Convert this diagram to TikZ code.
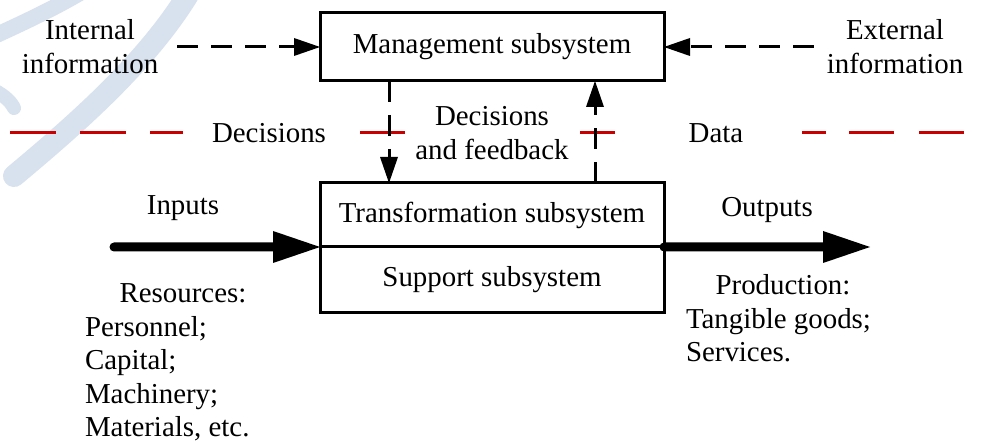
\documentclass[tikz,border=0pt]{standalone}
\usepackage{fontspec}
\setmainfont{Liberation Serif}
\usetikzlibrary{arrows.meta,calc}
\definecolor{divred}{RGB}{200,0,0}
\definecolor{wmblue}{RGB}{216,225,238}
\begin{document}
\begin{tikzpicture}[x=1bp,y=-1bp,
  every node/.style={font=\fontsize{29}{34}\selectfont, inner sep=0pt, outer sep=0pt},
  box/.style={draw, line width=3bp, minimum width=344bp},
  dasharrow/.style={line width=3bp, dash pattern=on 21bp off 13bp,
    -{Triangle[length=26bp,width=18bp,line width=0pt]}},
  bigarrow/.style={line width=9bp, line cap=round,
    -{Triangle[length=47bp,width=32bp,line width=0pt]}},
  divider/.style={line width=3bp, draw=divred},
  wm/.style={draw=wmblue, line cap=round}]

% page and bounding box
\fill[white] (0,0) rectangle (984,445);
\useasboundingbox (0,0) rectangle (984,445);

% faint background marks
\begin{scope}
  \clip (0,0) rectangle (984,445);
  \draw[wm, line width=22bp] (192,-12) .. controls (150,60) and (75,125) .. (14,176);
  \draw[wm, line width=16bp] (85,-10) .. controls (55,8) and (25,22) .. (-10,38);
  \draw[wm, line width=14bp] (-10,88) .. controls (2,94) and (10,100) .. (14,108);
\end{scope}

% subsystems
\node[box, minimum height=68bp] (mgmt) at (492,47) {Management subsystem};
\node[box, minimum height=64bp] (trans) at (492,215) {Transformation subsystem};
\node[box, minimum height=66bp] (supp) at (492,280) {Support subsystem};

% information sources
\node[align=center] (intinfo) at (90,47) {Internal\\information};
\node[align=center] (extinfo) at (895,47) {External\\information};
\draw[dasharrow] ([xshift=19bp]intinfo.east) -- (mgmt.west);
\draw[dasharrow] ([xshift=-13bp]extinfo.west) -- (mgmt.east);

% decision / data divider
\draw[divider] (10,133) -- (56,133);
\draw[divider] (80,133) -- (126,133);
\draw[divider] (150,133) -- (183,133);
\draw[divider] (360,133) -- (405,133);
\draw[divider] (580,133) -- (615,133);
\draw[divider] (802,133) -- (826,133);
\draw[divider] (849,133) -- (894,133);
\draw[divider] (919,133) -- (964,133);
\node[anchor=base] (dec) at (269,143) {Decisions};
\node[anchor=base] (data) at (716,143) {Data};
\node[align=center] (decfb) at (492,133) {Decisions\\and feedback};

% decisions down, feedback up
\coordinate (colL) at (389,0);
\coordinate (colR) at (595,0);
\draw[dasharrow] (mgmt.south -| colL) -- (trans.north -| colL);
\draw[dasharrow] (trans.north -| colR) -- (mgmt.south -| colR);

% inputs and outputs
\coordinate (inStart) at (114,247);
\coordinate (outEnd) at (870,247);
\draw[bigarrow] (inStart) -- (trans.south west);
\draw[bigarrow] (trans.south east) -- (outEnd);
\node[anchor=base] (inputs) at (183,215) {Inputs};
\node[anchor=base] (outputs) at (767,217) {Outputs};

% resources list
\node[anchor=base] (res) at (183,303) {Resources:};
\node[anchor=base west] (res1) at (85,337) {Personnel;};
\node[anchor=base west] (res2) at (85,370) {Capital;};
\node[anchor=base west] (res3) at (85,403) {Machinery;};
\node[anchor=base west] (res4) at (85,436) {Materials, etc.};

% production list
\node[anchor=base] (prod) at (783,295) {Production:};
\node[anchor=base west] (prod1) at (686,329) {Tangible goods;};
\node[anchor=base west] (prod2) at (686,362) {Services.};
\end{tikzpicture}
\end{document}
